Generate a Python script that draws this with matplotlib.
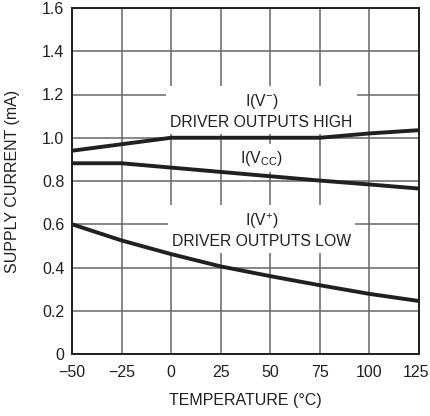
import matplotlib
matplotlib.use("Agg")
import matplotlib.pyplot as plt
from matplotlib.transforms import ScaledTranslation

fam = "Liberation Sans"
plt.rcParams['font.family'] = [fam, 'DejaVu Sans']
plt.rcParams['mathtext.fontset'] = 'custom'
plt.rcParams['mathtext.rm'] = fam
plt.rcParams['mathtext.it'] = fam
plt.rcParams['mathtext.default'] = 'rm'

temp = [-50, -25, 0, 25, 50, 75, 100, 125]
i_vminus = [0.940, 0.970, 1.000, 1.000, 1.000, 1.000, 1.020, 1.035]
i_vcc = [0.882, 0.882, 0.862, 0.842, 0.822, 0.802, 0.784, 0.765]
i_vplus = [0.600, 0.525, 0.462, 0.405, 0.360, 0.318, 0.278, 0.245]

xticks = [-50, -25, 0, 25, 50, 75, 100, 125]
xticklabels = ['\u221250', '\u221225', '0', '25', '50', '75', '100', '125']
yticks = [0, 0.2, 0.4, 0.6, 0.8, 1.0, 1.2, 1.4, 1.6]
yticklabels = ['0', '0.2', '0.4', '0.6', '0.8', '1.0', '1.2', '1.4', '1.6']

W, H = 430, 416
fig = plt.figure(figsize=(W/100, H/100), dpi=100)
ax = fig.add_axes([72/W, 1-354/H, 347/W, 346/H])
ax.set_xlim(-50, 125)
ax.set_ylim(0, 1.6)
ax.set_xticks(xticks)
ax.set_xticklabels(xticklabels)
ax.set_yticks(yticks)
ax.set_yticklabels(yticklabels)
ax.tick_params(length=0, labelsize=11.5, colors='#231f20')
ax.tick_params(axis='y', pad=5.5)
ax.tick_params(axis='x', pad=8)
ax.grid(True, color='#666666', linewidth=1.1)
ax.set_axisbelow(True)
for s in ax.spines.values():
    s.set_linewidth(1.4)
    s.set_color('#231f20')

# nudge last x tick label left so it stays inside the figure, like the reference
last = ax.get_xticklabels()[-1]
last.set_transform(last.get_transform() + ScaledTranslation(-3/100, 0, fig.dpi_scale_trans))

lw = 2.8
for ys in (i_vminus, i_vcc, i_vplus):
    ax.plot(temp, ys, color='#231f20', linewidth=lw, solid_capstyle='butt', zorder=3)

box = dict(facecolor='white', edgecolor='none', pad=3)
ax.text(45.5, 1.124, 'I(V$^{-}$)\nDRIVER OUTPUTS HIGH', ha='center', va='center',
        fontsize=11.3, linespacing=1.35, bbox=box, zorder=2, color='#231f20')
ax.text(45.5, 0.906, 'I(V$_{\\rm CC}$)', ha='center', va='center',
        fontsize=11.3, bbox=box, zorder=2, color='#231f20')
ax.text(45.5, 0.573, 'I(V$^{+}$)\nDRIVER OUTPUTS LOW', ha='center', va='center',
        fontsize=11.3, linespacing=1.3, bbox=box, zorder=2, color='#231f20')

ax.set_xlabel('TEMPERATURE (\u00b0C)', fontsize=11.5, color='#231f20')
ax.set_ylabel('SUPPLY CURRENT (mA)', fontsize=11.5, color='#231f20')
ax.xaxis.set_label_coords(0.5, -(393-354)/346, transform=ax.transAxes)
ax.yaxis.set_label_coords(-(72-20)/347, 0.5, transform=ax.transAxes)

fig.savefig('out.png', dpi=100)
